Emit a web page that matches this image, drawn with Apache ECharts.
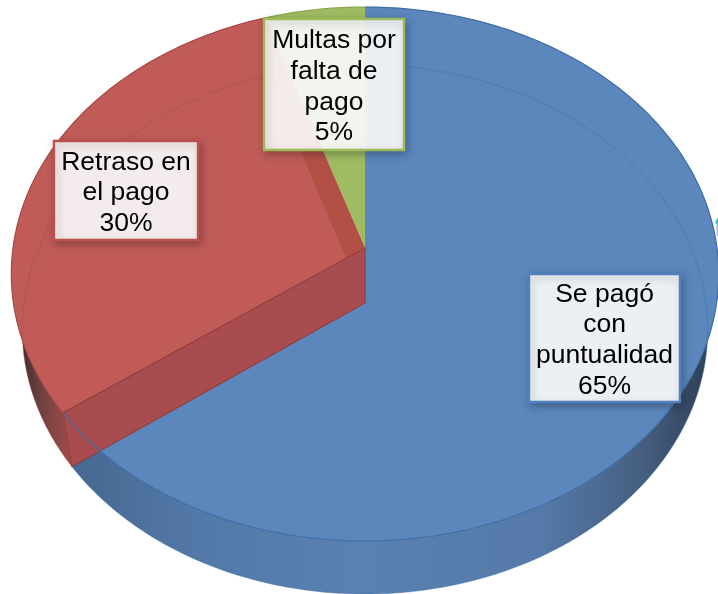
<!DOCTYPE html>
<html>
<head>
<meta charset="utf-8">
<style>
  html, body { margin: 0; padding: 0; background: #fff; }
  #chart { width: 718px; height: 594px; }
</style>
<script src="https://cdn.jsdelivr.net/npm/echarts@6/dist/echarts.min.js"></script>
</head>
<body>
<div id="chart"></div>
<script>
const categories = ['Se pagó\ncon\npuntualidad', 'Retraso en\nel pago', 'Multas por\nfalta de\npago']
const values = [65, 30, 5]
const faceColors = ['#5b87bd', '#c05b58', '#9fbc62']
const edgeColors = ['#3f6ea6', '#a94a49', '#8aa64f']
const boxBorders = ['#4f81bd', '#c0504d', '#9bbb59']

// label boxes: left, top, width, height
const boxes = [[529, 274, 151, 128], [54, 141, 144, 99], [264, 19, 140, 131]]

// the pie is a disc seen in perspective: two planes, top face and bottom face
const topPlane = { a: 240.3, b: 248, c: -0.0974, s: 352 }
const bottomPlane = { a: 231.6, b: 303, c: -0.1, s: 341 }
const cx = 365

function project (plane, deg) {
  const t = deg * Math.PI / 180
  const u = Math.sin(t)
  const v = -Math.cos(t)
  const d = 1 + plane.c * v
  return [cx + plane.s * u / d, (plane.a * v + plane.b) / d]
}

function arc (plane, from, to) {
  const pts = []
  for (let d = from; d < to; d += 1) pts.push(project(plane, d))
  pts.push(project(plane, to))
  return pts
}

// start and end angle of every slice, clockwise from 12 o'clock
const total = values.reduce((s, v) => s + v, 0)
let acc = 0
const angles = values.map(v => {
  const from = acc / total * 360
  acc += v
  return [from, acc / total * 360]
})

function gradient (stops) {
  return new echarts.graphic.LinearGradient(0, 0, 718, 0, stops.map(s => ({ offset: s[0] / 718, color: s[1] })), true)
}

const wallFills = [
  gradient([[72, '#466890'], [200, '#5379a8'], [360, '#5a81b3'], [540, '#557aa9'], [640, '#465f82'], [712, '#2f3f55']]),
  gradient([[18, '#3a2a2c'], [40, '#6d4040'], [72, '#a54c4b']])
]

function renderWall (params, api) {
  const i = params.dataIndex
  const [from, to] = angles[i]
  if (i > 1) return null
  return {
    type: 'polygon',
    shape: { points: arc(topPlane, from, to).concat(arc(bottomPlane, from, to).reverse()) },
    style: { fill: wallFills[i], stroke: null }
  }
}

function renderFace (params, api) {
  const i = params.dataIndex
  const [from, to] = angles[i]
  return {
    type: 'polygon',
    shape: { points: [[cx, topPlane.b]].concat(arc(topPlane, from, to)) },
    style: { fill: faceColors[i] }
  }
}

// the red slice is cut open on both sides, so its two side walls show
function renderCut (params, api) {
  const [from, to] = angles[1]
  const quad = deg => [[cx, topPlane.b], project(topPlane, deg), project(bottomPlane, deg), [cx, bottomPlane.b]]
  return {
    type: 'group',
    children: [
      { type: 'polygon', shape: { points: quad(to) }, style: { fill: '#b35045' } },
      { type: 'polygon', shape: { points: quad(from) }, style: { fill: '#a84c50', stroke: '#93403f', lineWidth: 1.2 } }
    ]
  }
}

function renderEdge (params, api) {
  const i = params.dataIndex
  const [from, to] = angles[i]
  return {
    type: 'group',
    children: [
      { type: 'polyline', shape: { points: arc(bottomPlane, from, to) }, style: { fill: null, stroke: edgeColors[i], lineWidth: 1, opacity: 0.5 } },
      { type: 'polyline', shape: { points: arc(topPlane, from, to) }, style: { fill: null, stroke: edgeColors[i], lineWidth: 1.2 } }
    ]
  }
}

function renderLabel (params, api) {
  const i = params.dataIndex
  const [x, y, w, h] = boxes[i]
  return {
    type: 'group',
    children: [
      {
        type: 'rect',
        shape: { x: x, y: y, width: w, height: h },
        style: {
          fill: 'rgba(255,255,255,0.9)',
          stroke: boxBorders[i],
          lineWidth: 2.4,
          shadowBlur: 8,
          shadowOffsetX: 2,
          shadowOffsetY: 3,
          shadowColor: 'rgba(0,0,0,0.28)'
        }
      },
      {
        type: 'text',
        style: {
          text: categories[i] + '\n' + values[i] + '%',
          x: x + w / 2,
          y: y + h / 2 + 2.5,
          align: 'center',
          verticalAlign: 'middle',
          fontFamily: '"Liberation Sans", Arial, sans-serif',
          fontSize: 26.5,
          lineHeight: 30.7,
          fill: '#000'
        }
      }
    ]
  }
}

const seriesData = values.map((v, i) => i)

const chart = echarts.init(document.getElementById('chart'), null, { renderer: 'canvas' })
chart.setOption({
  animation: false,
  backgroundColor: '#fff',
  // small leftover mark on the right border of the picture
  graphic: [
    { type: 'polygon', z: -1, shape: { points: [[715, 222], [718, 217], [718, 227]] }, style: { fill: '#45c1cf' } },
    { type: 'polygon', z: -1, shape: { points: [[716, 226], [718, 226], [718, 236], [717, 236]] }, style: { fill: '#b9bcc0' } }
  ],
  series: [renderWall, renderFace, renderCut, renderEdge, renderLabel].map(fn => ({
    type: 'custom',
    coordinateSystem: 'none',
    silent: true,
    data: fn === renderCut ? [0] : seriesData,
    renderItem: fn
  }))
})
</script>
</body>
</html>
